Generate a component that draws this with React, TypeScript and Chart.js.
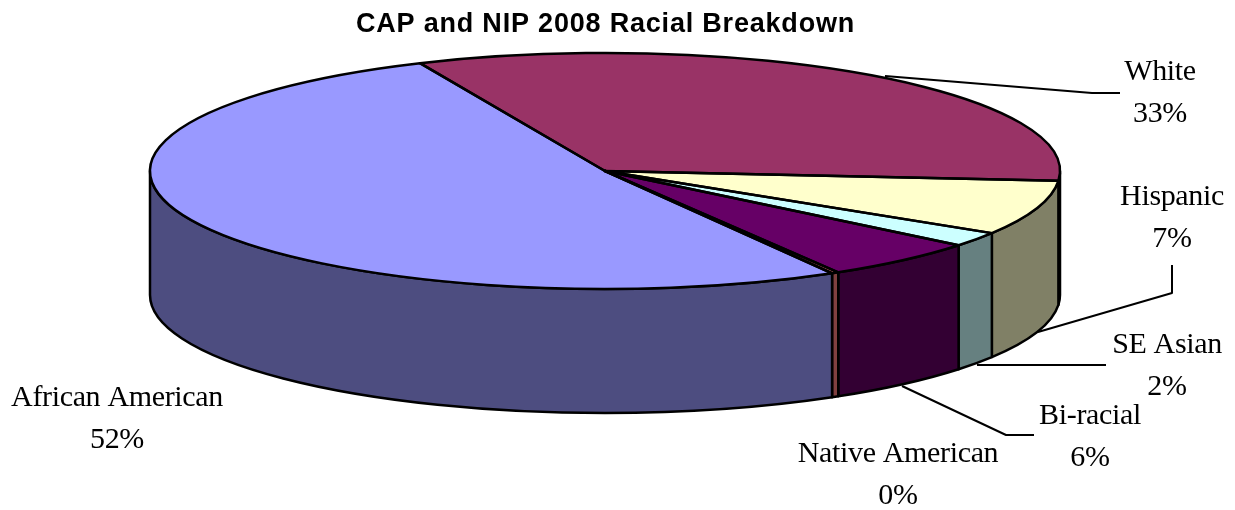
import React, { useEffect, useRef } from "react";
import { Chart, registerables } from "chart.js";

Chart.register(...registerables);

const TITLE = "CAP and NIP 2008 Racial Breakdown";
const categories = ["White", "Hispanic", "SE Asian", "Bi-racial", "Native American", "African American"];
const values = [33, 7.49, 2.01, 5.6, 0.25, 51.65];
const topColors = ["#993366", "#FFFFCC", "#CCFFFF", "#660066", "#FF8080", "#9999FF"];
const wallColors = ["#4D1A33", "#808066", "#668080", "#330033", "#804040", "#4D4D80"];

// layout of the pseudo-3D projection
const CX = 605, CY = 171, RX = 455, RY = 118, DEPTH = 124;
const labelCenters = [[1160, 72], [1172, 197], [1167, 345], [1090, 416], [898, 454], [117, 398]];
const leaders: (number[][] | null)[] = [
  [[885, 76], [1092, 93], [1120, 93]],
  [[1038, 332], [1172, 293], [1172, 265]],
  [[977, 365], [1106, 365]],
  [[902, 386], [1006, 435], [1034, 435]],
  null,
  null,
];

const pie3d = {
  id: "pie3d",
  beforeDraw(chart: any) {
    chart.ctx.letterSpacing = "0.8px";
  },
  beforeDatasetsDraw(chart: any) {
    const ctx = chart.ctx;
    ctx.letterSpacing = "0px";
    const arcs = chart.getDatasetMeta(0).data;
    ctx.save();
    ctx.lineWidth = 2.5;
    ctx.strokeStyle = "#000";
    ctx.lineJoin = "round";
    // side walls, only the part of every slice that faces the viewer
    arcs.forEach((arc: any, i: number) => {
      for (const k of [-1, 0, 1]) {
        const lo = 2 * Math.PI * k, hi = lo + Math.PI;
        const a = Math.max(arc.startAngle, lo), b = Math.min(arc.endAngle, hi);
        if (b <= a) continue;
        ctx.beginPath();
        ctx.ellipse(CX, CY, RX, RY, 0, a, b);
        ctx.ellipse(CX, CY + DEPTH, RX, RY, 0, b, a, true);
        ctx.closePath();
        ctx.fillStyle = wallColors[i];
        ctx.fill();
        ctx.stroke();
      }
    });
    ctx.restore();
    // squash the pie into the top ellipse
    const arc0 = arcs[0];
    ctx.save();
    ctx.translate(CX, CY);
    ctx.scale(RX / arc0.outerRadius, RY / arc0.outerRadius);
    ctx.translate(-arc0.x, -arc0.y);
  },
  afterDatasetsDraw(chart: any) {
    const ctx = chart.ctx;
    ctx.restore();
    const arcs = chart.getDatasetMeta(0).data;
    const total = values.reduce((s, v) => s + v, 0);
    ctx.save();
    ctx.lineWidth = 2.5;
    ctx.strokeStyle = "#000";
    ctx.lineJoin = "round";
    arcs.forEach((arc: any) => {
      ctx.beginPath();
      ctx.moveTo(CX, CY);
      ctx.ellipse(CX, CY, RX, RY, 0, arc.startAngle, arc.endAngle);
      ctx.closePath();
      ctx.stroke();
    });
    // leader lines
    ctx.lineWidth = 2;
    leaders.forEach((pts) => {
      if (!pts) return;
      ctx.beginPath();
      pts.forEach(([x, y], j) => (j ? ctx.lineTo(x, y) : ctx.moveTo(x, y)));
      ctx.stroke();
    });
    // labels
    ctx.fillStyle = "#000";
    ctx.textAlign = "center";
    ctx.textBaseline = "middle";
    ctx.font = '30px "Liberation Serif"';
    ctx.letterSpacing = "-0.35px";
    categories.forEach((name, i) => {
      const [x, y] = labelCenters[i];
      ctx.fillText(name, x, y);
      ctx.fillText(`${Math.round((values[i] / total) * 100)}%`, x, y + 42);
    });
    ctx.letterSpacing = "0px";
    ctx.restore();
  },
};

export default function App() {
  const ref = useRef<HTMLCanvasElement>(null);
  useEffect(() => {
    document.body.style.margin = "0";
    const chart = new Chart(ref.current!, {
      type: "pie",
      data: {
        labels: categories,
        datasets: [{ data: values, backgroundColor: topColors, borderWidth: 0, clip: false } as any],
      },
      options: {
        responsive: false,
        animation: false,
        rotation: -24,
        layout: { padding: { right: 24 } },
        plugins: {
          legend: { display: false },
          tooltip: { enabled: false },
          title: {
            display: true,
            text: TITLE,
            color: "#000",
            font: { family: '"Liberation Sans"', size: 27, weight: "bold" },
            padding: { top: 8, bottom: 8 },
          },
        },
      },
      plugins: [pie3d],
    } as any);
    return () => chart.destroy();
  }, []);
  return <canvas ref={ref} width={1235} height={510} style={{ display: "block" }} />;
}
